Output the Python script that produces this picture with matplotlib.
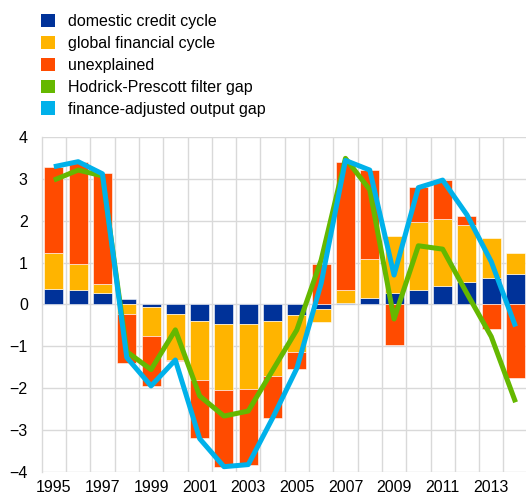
import matplotlib
matplotlib.use("Agg")
import matplotlib.pyplot as plt
from matplotlib.patches import Patch
import numpy as np

plt.rcParams['font.family'] = ['Liberation Sans', 'DejaVu Sans']

years = list(range(1995, 2015))
domestic_credit = [0.36, 0.34, 0.27, 0.12, -0.06, -0.24, -0.39, -0.47, -0.47, -0.39,
                   -0.26, -0.10, 0.03, 0.15, 0.26, 0.35, 0.45, 0.54, 0.64, 0.73]
global_financial = [0.87, 0.62, 0.22, -0.22, -0.69, -1.09, -1.41, -1.58, -1.55, -1.32,
                    -0.89, -0.32, 0.32, 0.93, 1.37, 1.63, 1.60, 1.36, 0.95, 0.49]
unexplained = [2.06, 2.44, 2.64, -1.18, -1.21, -0.03, -1.40, -1.83, -1.81, -1.00,
               -0.40, 0.96, 3.06, 2.13, -0.96, 0.83, 0.93, 0.21, -0.60, -1.75]
hp_gap = [2.97, 3.21, 3.07, -1.13, -1.56, -0.61, -2.19, -2.67, -2.55, -1.58,
          -0.61, 1.06, 3.49, 2.74, -0.35, 1.40, 1.32, 0.26, -0.77, -2.34]
fin_adj_gap = [3.29, 3.41, 3.12, -1.27, -1.95, -1.33, -3.21, -3.88, -3.83, -2.72,
               -1.53, 0.50, 3.44, 3.21, 0.70, 2.79, 2.97, 2.14, 1.02, -0.53]
xtick_labels = [str(y) for y in range(1995, 2014, 2)]

labels = ['domestic credit cycle', 'global financial cycle', 'unexplained',
          'Hodrick-Prescott filter gap', 'finance-adjusted output gap']
colors = ['#003299', '#FFB400', '#FF4B00', '#65B800', '#00B1EA']

fig = plt.figure(figsize=(5.26, 4.97), dpi=100)
ax = fig.add_axes([41.7 / 526, 25.3 / 497, 1 - 41.7 / 526, 334.7 / 497])

x = np.array(years, dtype=float)
series = [domestic_credit, global_financial, unexplained]
pos_base = np.zeros(len(x))
neg_base = np.zeros(len(x))
w = 0.78
for vals, c in zip(series, colors[:3]):
    v = np.array(vals)
    base = np.where(v >= 0, pos_base, neg_base)
    ax.bar(x, v, width=w, bottom=base, color=c, edgecolor='white', linewidth=0.4, zorder=2)
    pos_base = pos_base + np.where(v >= 0, v, 0)
    neg_base = neg_base + np.where(v < 0, v, 0)

ax.plot(x, hp_gap, color=colors[3], lw=3.6, zorder=3, solid_capstyle='butt')
ax.plot(x, fin_adj_gap, color=colors[4], lw=3.6, zorder=4, solid_capstyle='butt')

ax.set_xlim(1994.5, 2014.43)
ax.set_ylim(-4, 4)
ax.set_yticks(range(-4, 5))
ax.set_xticks(range(1995, 2014, 2))
ax.set_xticklabels(xtick_labels)
ax.grid(False)
for yv in range(-4, 5):
    ax.axhline(yv, color='#D9D9D9', lw=1, zorder=1)
for xv in np.arange(1995.5, 2014, 1):
    ax.axvline(xv, color='#D9D9D9', lw=1, zorder=1)
for s in ['top', 'right', 'bottom']:
    ax.spines[s].set_visible(False)
ax.spines['left'].set_color('#D9D9D9')
ax.spines['left'].set_linewidth(1)
ax.tick_params(axis='both', which='both', length=0, labelsize=11.5, colors='black')
ax.tick_params(axis='y', pad=10)
ax.tick_params(axis='x', pad=6)

handles = [Patch(facecolor=c, edgecolor='none') for c in colors]
fig.legend(handles, labels, loc='upper left', bbox_to_anchor=(41 / 526, 1 - 14 / 497),
           frameon=False, fontsize=11.5, handlelength=0.9, handleheight=0.9,
           handletextpad=0.8, labelspacing=0.42, borderpad=0, borderaxespad=0)

fig.savefig('out.png', dpi=100)
